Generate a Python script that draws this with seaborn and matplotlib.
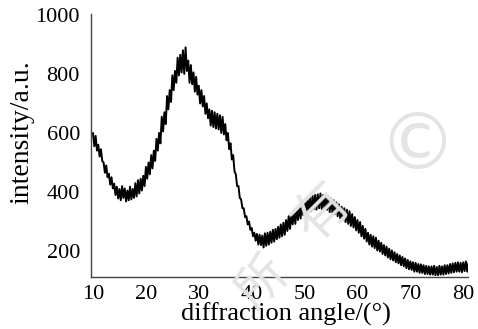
import numpy as np
import pandas as pd
import matplotlib
matplotlib.use("Agg")
import matplotlib.pyplot as plt
import seaborn as sns

# ---- data ----
angle_start = 10.0
angle_step = 0.25
intensity = [
    600, 555, 590, 540,   # 10
    560, 520, 545, 505,   # 11
    500, 465, 490, 450,   # 12
    462, 425, 450, 412,   # 13
    428, 390, 418, 378,   # 14
    410, 372, 420, 380,   # 15
    412, 368, 405, 372,   # 16
    418, 375, 410, 380,   # 17
    430, 385, 440, 395,   # 18
    445, 405, 455, 420,   # 19
    485, 445, 500, 460,   # 20
    525, 480, 540, 505,   # 21
    580, 540, 600, 565,   # 22
    655, 605, 670, 630,   # 23
    725, 680, 745, 705,   # 24
    795, 745, 810, 770,   # 25
    855, 795, 865, 805,   # 26
    880, 800, 890, 810,   # 27
    845, 770, 830, 765,   # 28
    805, 740, 790, 730,   # 29
    760, 700, 745, 690,   # 30
    725, 665, 700, 650,   # 31
    680, 625, 675, 620,   # 32
    670, 615, 665, 612,   # 33
    660, 600, 655, 595,   # 34
    630, 575, 600, 545,   # 35
    565, 510, 525, 470,   # 36
    460, 420, 420, 380,   # 37
    375, 345, 345, 315,   # 38
    318, 290, 300, 272,   # 39
    278, 250, 262, 235,   # 40
    258, 222, 255, 220,   # 41
    252, 212, 260, 218,   # 42
    262, 222, 265, 228,   # 43
    272, 232, 275, 240,   # 44
    282, 245, 290, 250,   # 45
    296, 255, 305, 268,   # 46
    318, 275, 325, 290,   # 47
    338, 292, 345, 305,   # 48
    355, 310, 362, 322,   # 49
    370, 325, 378, 335,   # 50
    382, 335, 388, 342,   # 51
    390, 340, 392, 345,   # 52
    395, 342, 390, 345,   # 53
    388, 340, 385, 332,   # 54
    378, 330, 372, 325,   # 55
    365, 318, 358, 310,   # 56
    350, 305, 345, 298,   # 57
    340, 292, 335, 285,   # 58
    325, 280, 315, 270,   # 59
    305, 262, 298, 250,   # 60
    285, 242, 275, 232,   # 61
    262, 222, 255, 215,   # 62
    250, 210, 245, 202,   # 63
    235, 198, 228, 190,   # 64
    220, 185, 215, 178,   # 65
    208, 172, 202, 168,   # 66
    196, 162, 190, 158,   # 67
    185, 152, 180, 148,   # 68
    175, 142, 170, 138,   # 69
    165, 136, 162, 130,   # 70
    160, 130, 156, 126,   # 71
    155, 126, 152, 122,   # 72
    150, 122, 148, 120,   # 73
    148, 120, 150, 118,   # 74
    146, 118, 150, 120,   # 75
    148, 120, 152, 122,   # 76
    152, 124, 156, 126,   # 77
    158, 128, 160, 130,   # 78
    162, 130, 160, 128,   # 79
    162, 132, 165, 130,   # 80
    160,                  # 81
]
angle = angle_start + angle_step * np.arange(len(intensity))

x_ticks = [10, 20, 30, 40, 50, 60, 70, 80]
y_ticks = [200, 400, 600, 800, 1000]
x_label = "diffraction angle/(°)"
y_label = "intensity/a.u."

df = pd.DataFrame({"angle": angle, "intensity": intensity})

# ---- style ----
sns.set_theme(style="white")
plt.rcParams["font.family"] = ["Liberation Serif", "DejaVu Serif"]

fig = plt.figure(figsize=(4.78, 3.29), dpi=100)
ax = fig.add_axes([91 / 478, 1 - 277 / 329, (468 - 91) / 478, (277 - 14) / 329])

# faint watermark
wm = dict(color="#e4e4e4", zorder=0, ha="center", va="center")
fig.text(417 / 478, 1 - 147 / 329, "©", fontsize=56, family="DejaVu Sans", **wm)
fig.text(262 / 478, 1 - 282 / 329, "所", fontsize=36, rotation=45,
         family=["Noto Sans CJK SC", "DejaVu Sans"], **wm)
fig.text(322 / 478, 1 - 212 / 329, "有", fontsize=40, rotation=45,
         family=["Noto Sans CJK SC", "DejaVu Sans"], **wm)

sns.lineplot(data=df, x="angle", y="intensity", ax=ax, color="black",
             linewidth=1.4, estimator=None, sort=False, zorder=3)
ax.patch.set_alpha(0)

ax.set_xlim(9.62, 80.9)
ax.set_ylim(112, 1003)
ax.set_xticks(x_ticks)
ax.set_yticks(y_ticks)
ax.set_xticklabels([str(t) for t in x_ticks])
ax.set_yticklabels([str(t) for t in y_ticks])
ax.tick_params(axis="both", which="both", length=0, labelsize=16, colors="black")
ax.tick_params(axis="y", pad=8)
ax.tick_params(axis="x", pad=6)

for side in ("top", "right"):
    ax.spines[side].set_visible(False)
for side in ("left", "bottom"):
    ax.spines[side].set_color("#444444")
    ax.spines[side].set_linewidth(1.0)

ax.set_xlabel(x_label, fontsize=19, color="black")
ax.set_ylabel(y_label, fontsize=20, color="black")
ax.xaxis.set_label_coords((286 - 91) / 377, (277 - 303) / 263)
ax.yaxis.set_label_coords((34 - 91) / 377, (277 - 132) / 263)

fig.savefig("out.png", dpi=100)
